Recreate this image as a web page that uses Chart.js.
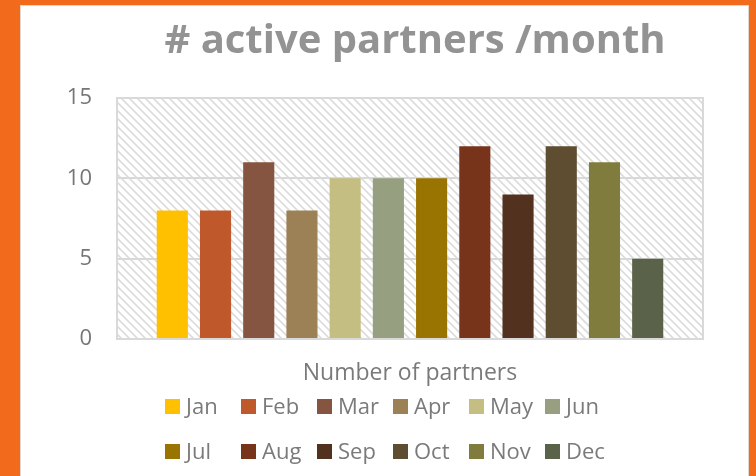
<!DOCTYPE html>
<html>
<head>
<meta charset="utf-8">
<script src="https://cdn.jsdelivr.net/npm/chart.js@4.4.1/dist/chart.umd.min.js"></script>
<style>
    html, body { margin: 0; padding: 0; }
    body { width: 756px; height: 476px; background: #F26B1D; position: relative; overflow: hidden; }
    #card { position: absolute; left: 20px; top: 5px; width: 727px; height: 471px; background: #fff;
            border: 1px solid #e2d6cf; border-bottom: none; }
    #card canvas { position: absolute; left: 0; top: 0; }
</style>
</head>
<body>
<div id="card"><canvas id="partnersChart" width="727" height="470"></canvas></div>
<script>
// data
const categories = ['Number of partners'];
const months = ['Jan', 'Feb', 'Mar', 'Apr', 'May', 'Jun', 'Jul', 'Aug', 'Sep', 'Oct', 'Nov', 'Dec'];
const partners = [8, 8, 11, 8, 10, 10, 10, 12, 9, 12, 11, 5];
const monthColors = ['#FFC000', '#BF582B', '#855541', '#9C8157', '#C5BE83', '#96A080',
                     '#9A7400', '#77341A', '#53311F', '#5E4D30', '#7F7C3D', '#5A634A'];
const yTicks = [0, 5, 10, 15];

const chartTitle = '# active partners /month';
const fontFamily = '"Open Sans", Lato, sans-serif';

// one dataset per month, all in the single category
const datasets = months.map((m, i) => ({
    label: m,
    data: [partners[i]],
    backgroundColor: monthColors[i],
    borderWidth: 0,
    categoryPercentage: 0.885,
    barPercentage: 0.72
}));

// Excel-like hatched plot area + border
const plotBackground = {
    id: 'plotBackground',
    beforeDraw(chart) {
        const { ctx, chartArea: a } = chart;
        const tile = document.createElement('canvas');
        tile.width = 8; tile.height = 8;
        const t = tile.getContext('2d');
        t.fillStyle = '#ffffff';
        t.fillRect(0, 0, 8, 8);
        t.strokeStyle = '#dcdcdc';
        t.lineWidth = 1.6;
        t.beginPath();
        t.moveTo(-2, -2); t.lineTo(10, 10);
        t.moveTo(-2, 6); t.lineTo(2, 10);
        t.moveTo(6, -2); t.lineTo(10, 2);
        t.stroke();
        ctx.save();
        ctx.fillStyle = ctx.createPattern(tile, 'repeat');
        ctx.fillRect(a.left, a.top, a.right - a.left, a.bottom - a.top);
        ctx.restore();
    },
    afterDraw(chart) {
        const { ctx, chartArea: a } = chart;
        ctx.save();
        ctx.strokeStyle = '#d9d9d9';
        ctx.lineWidth = 2;
        ctx.strokeRect(a.left, a.top, a.right - a.left, a.bottom - a.top);
        ctx.restore();
    }
};

// title and the two-row legend laid out in fixed columns like the original
const titleAndLegend = {
    id: 'titleAndLegend',
    afterDraw(chart) {
        const ctx = chart.ctx;
        ctx.save();
        ctx.fillStyle = '#939393';
        ctx.font = 'bold 40px ' + fontFamily;
        ctx.textAlign = 'center';
        ctx.textBaseline = 'alphabetic';
        ctx.fillText(chartTitle, 394, 47);

        ctx.font = '22px ' + fontFamily;
        ctx.textAlign = 'left';
        chart.data.datasets.forEach((ds, i) => {
            const col = i % 6, row = Math.floor(i / 6);
            const x = 144 + col * 76;
            const y = 393 + row * 45;
            ctx.fillStyle = ds.backgroundColor;
            ctx.fillRect(x, y, 15, 15);
            ctx.fillStyle = '#7a7a7a';
            ctx.fillText(ds.label, x + 21, y + 15);
        });
        ctx.restore();
    }
};

new Chart(document.getElementById('partnersChart'), {
    type: 'bar',
    data: { labels: categories, datasets: datasets },
    options: {
        responsive: false,
        animation: false,
        layout: { padding: { top: 92, right: 45, left: 0, bottom: 0 } },
        plugins: {
            legend: { display: false },
            title: { display: false },
            tooltip: { enabled: false }
        },
        scales: {
            x: {
                grid: { display: false, drawTicks: false },
                border: { display: false },
                ticks: { color: '#7a7a7a', padding: 21, font: { family: fontFamily, size: 23 } },
                afterFit(scale) { scale.height = 137; }
            },
            y: {
                min: 0,
                max: 15,
                afterBuildTicks(scale) { scale.ticks = yTicks.map(v => ({ value: v })); },
                grid: { color: '#d9d9d9', lineWidth: 2, drawTicks: false },
                border: { display: false },
                ticks: { color: '#767676', padding: 25, font: { family: fontFamily, size: 22 } },
                afterFit(scale) { scale.width = 96; }
            }
        }
    },
    plugins: [plotBackground, titleAndLegend]
});
</script>
</body>
</html>
